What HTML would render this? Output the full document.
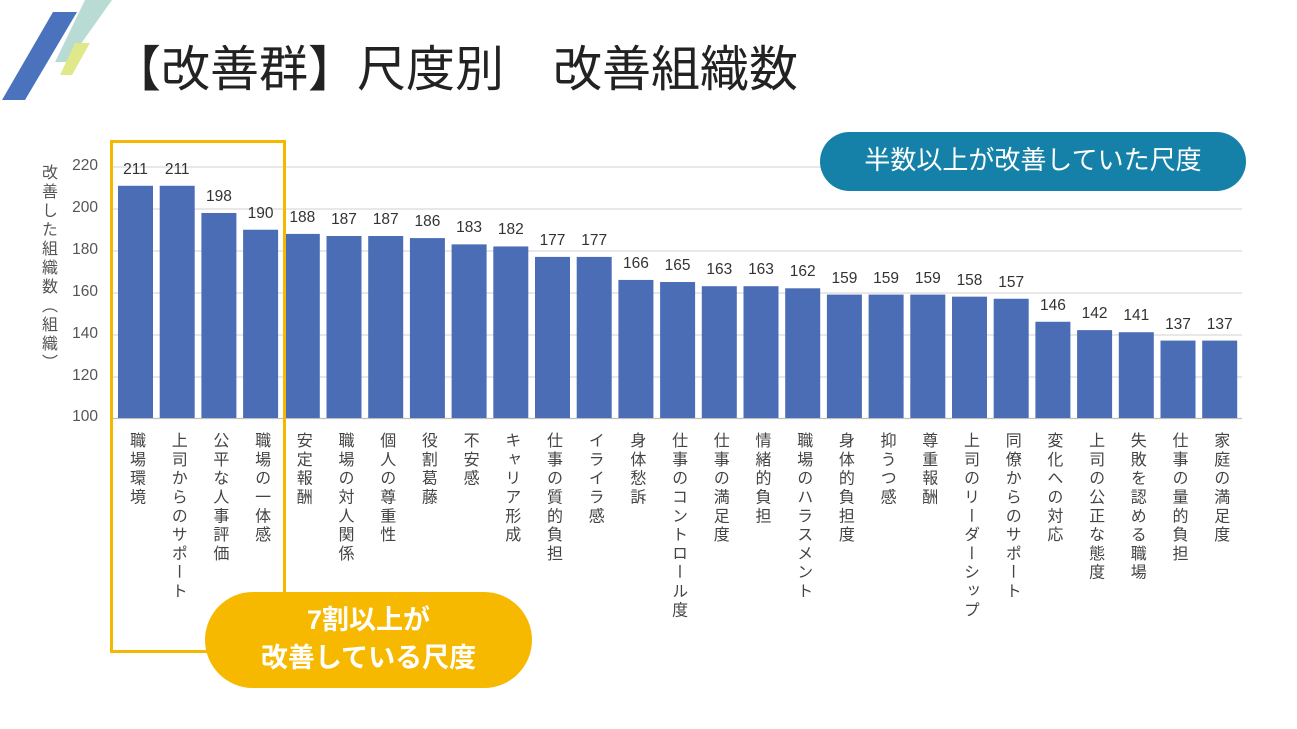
<!DOCTYPE html>
<html><head><meta charset="utf-8"><style>
body{margin:0;width:1297px;height:729px;background:#fff;position:relative;overflow:hidden;font-family:"Liberation Sans","Noto Sans CJK JP",sans-serif;}
.t{position:absolute;}
.lab{position:absolute;top:432px;writing-mode:vertical-rl;font-size:16px;color:#444;letter-spacing:2.8px;line-height:18px;}
.val{position:absolute;font-size:15.5px;color:#333;text-align:center;width:42px;}
.tick{position:absolute;left:60px;width:38px;text-align:right;font-size:15.5px;color:#555;}
</style></head><body>
<svg class="t" style="left:0;top:0" width="130" height="110">
<polygon points="85,0 112,0 68,62 55,62" fill="#b8dcd4"/>
<polygon points="53,12 77,12 25,100 2,100" fill="#4a72bd"/>
<polygon points="75,43 90,43 72,75 60,75" fill="#dfe98a"/>
</svg>
<div class="t" style="left:112px;top:30px;font-size:49px;color:#222;white-space:nowrap">【改善群】尺度別　改善組織数</div>
<svg class="t" style="left:0;top:0" width="1297" height="729">
<g stroke="#d9d9d9" stroke-width="1.2">
<line x1="112" x2="1242" y1="167" y2="167"/><line x1="112" x2="1242" y1="209" y2="209"/>
<line x1="112" x2="1242" y1="251" y2="251"/><line x1="112" x2="1242" y1="293" y2="293"/>
<line x1="112" x2="1242" y1="335" y2="335"/><line x1="112" x2="1242" y1="377" y2="377"/>
<line x1="112" x2="1242" y1="418.5" y2="418.5" stroke="#bfbfbf"/>
</g>
<g fill="#4a6db5" id="bars"></g>
</svg>
<div id="extra"></div>
<div class="tick" style="top:157px">220</div>
<div class="tick" style="top:199px">200</div>
<div class="tick" style="top:241px">180</div>
<div class="tick" style="top:283px">160</div>
<div class="tick" style="top:325px">140</div>
<div class="tick" style="top:367px">120</div>
<div class="tick" style="top:408px">100</div>
<div class="t" style="left:38px;top:164px;writing-mode:vertical-rl;font-size:16px;color:#555;line-height:18px;letter-spacing:3px">改善した組織数（組織）</div>
<div class="t" style="left:110px;top:140px;width:170px;height:507px;border:3px solid #f5b800;"></div>
<div class="t" style="left:205px;top:592px;width:327px;height:96px;border-radius:48px;background:#f7b900;color:#fff;font-weight:bold;font-size:27px;text-align:center;line-height:38px;padding-top:9px;box-sizing:border-box">7割以上が<br>改善している尺度</div>
<div class="t" style="left:820px;top:132px;width:426px;height:59px;border-radius:30px;background:#1581a8;color:#fff;font-size:26px;text-align:center;line-height:57px">半数以上が改善していた尺度</div>
<script>
var v=[211,211,198,190,188,187,187,186,183,182,177,177,166,165,163,163,162,159,159,159,158,157,146,142,141,137,137];
var n=["職場環境","上司からのサポート","公平な人事評価","職場の一体感","安定報酬","職場の対人関係","個人の尊重性","役割葛藤","不安感","キャリア形成","仕事の質的負担","イライラ感","身体愁訴","仕事のコントロール度","仕事の満足度","情緒的負担","職場のハラスメント","身体的負担度","抑うつ感","尊重報酬","上司のリーダーシップ","同僚からのサポート","変化への対応","上司の公正な態度","失敗を認める職場","仕事の量的負担","家庭の満足度"];
var g=document.getElementById('bars'),e=document.getElementById('extra'),s='',h='';
for(var i=0;i<27;i++){var x=118+i*41.7,y=418-(v[i]-100)*2.092;
s+='<rect x="'+x+'" y="'+y+'" width="35" height="'+(418-y)+'"/>';
h+='<div class="val" style="left:'+(x-3.5)+'px;top:'+(y-25)+'px">'+v[i]+'</div>';
h+='<div class="lab" style="left:'+(x+8)+'px">'+n[i]+'</div>';}
g.innerHTML=s;e.innerHTML=h;
</script>
</body></html>
